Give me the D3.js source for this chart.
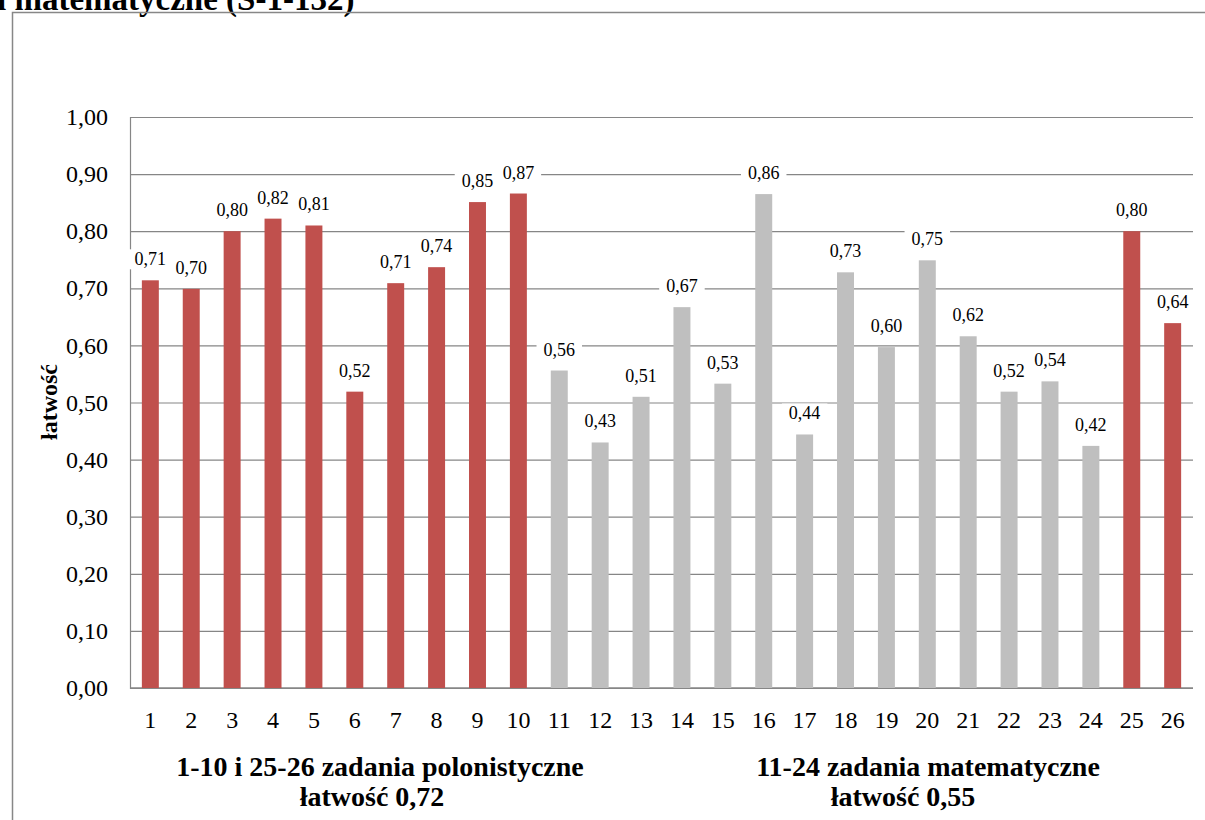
<!DOCTYPE html>
<html><head><meta charset="utf-8">
<script src="https://cdn.jsdelivr.net/npm/d3@7"></script>
<style>body{margin:0;background:#fff;}svg{display:block;}svg text{font-family:"Liberation Serif","Times New Roman",serif;}</style>
</head><body>
<script>
const categories = ["1","2","3","4","5","6","7","8","9","10","11","12","13","14","15","16","17","18","19","20","21","22","23","24","25","26"];
const values = [0.714,0.699,0.800,0.822,0.810,0.519,0.709,0.737,0.851,0.866,0.556,0.430,0.510,0.667,0.533,0.865,0.444,0.728,0.597,0.749,0.616,0.519,0.537,0.424,0.800,0.639];
const labels = ["0,71","0,70","0,80","0,82","0,81","0,52","0,71","0,74","0,85","0,87","0,56","0,43","0,51","0,67","0,53","0,86","0,44","0,73","0,60","0,75","0,62","0,52","0,54","0,42","0,80","0,64"];
const groups = ["pol","pol","pol","pol","pol","pol","pol","pol","pol","pol","mat","mat","mat","mat","mat","mat","mat","mat","mat","mat","mat","mat","mat","mat","pol","pol"];
const yTicks = [0,0.1,0.2,0.3,0.4,0.5,0.6,0.7,0.8,0.9,1.0];
const title = "i matematyczne (S-1-132)";
const yTitle = "łatwość";
const notes = [
  {lines:["1-10 i 25-26 zadania polonistyczne","łatwość 0,72"], x:[380,372]},
  {lines:["11-24 zadania matematyczne","łatwość 0,55"], x:[928,903]}
];
const colors = {pol:"#C0504D", mat:"#BFBFBF"};

const W=1205,H=820;
const svg=d3.select("body").append("svg").attr("width",W).attr("height",H);
const L=130,R=1193,T=117,B=688;
const x=d3.scaleBand().domain(categories).range([L,R]).paddingInner(0.585).paddingOuter(0.29);
const y=d3.scaleLinear().domain([0,1]).range([B,T]);
const ff = (sel)=>sel.style("font-family",'"Liberation Serif","Times New Roman",serif');

// title (cut at top, as in the reference)
ff(svg.append("text").attr("x",-3).attr("y",10).attr("font-weight","bold")
  .attr("font-size",33).text(title));
// outer frame
svg.append("rect").attr("x",12.5).attr("y",12.5).attr("width",W+20).attr("height",H+20)
  .attr("fill","none").attr("stroke","#878787").attr("stroke-width",1.5);

// gridlines + y axis
const yAxis=d3.axisLeft(y).tickValues(yTicks).tickSize(-(R-L)).tickFormat(d=>d3.format(".2f")(d).replace(".",","));
const ga=svg.append("g").attr("transform",`translate(${L},0)`).call(yAxis).attr("font-family",null);
ga.select(".domain").attr("stroke","#868686").attr("stroke-width",1.2);
ga.selectAll(".tick line").attr("stroke","#868686").attr("stroke-width",1.2);
ff(ga.selectAll(".tick text").attr("x",-22).attr("font-size",24).attr("fill","#000"));

// x axis
const xAxis=d3.axisBottom(x).tickSize(0);
const gx=svg.append("g").attr("transform",`translate(0,${B})`).call(xAxis).attr("font-family",null);
gx.select(".domain").attr("stroke","#868686").attr("stroke-width",1.5).attr("d",`M${L},0H${R}`);
ff(gx.selectAll(".tick text").attr("y",40).attr("dy",0).attr("font-size",24).attr("fill","#000"));

// bars
svg.append("g").selectAll("rect").data(values).join("rect")
  .attr("x",(d,i)=>x(categories[i])).attr("width",x.bandwidth())
  .attr("y",d=>y(d)).attr("height",d=>B-y(d))
  .attr("fill",(d,i)=>colors[groups[i]]);

// data labels with white background
const lg=svg.append("g");
values.forEach((v,i)=>{
  const cx=x(categories[i])+x.bandwidth()/2, cy=y(v)-21;
  const g=lg.append("g");
  const t=ff(g.append("text").attr("x",cx).attr("y",cy).attr("text-anchor","middle").attr("dominant-baseline","central")
    .attr("font-size",18).attr("fill","#000").text(labels[i]));
  const bb=t.node().getBBox();
  g.insert("rect","text").attr("x",bb.x-7).attr("y",bb.y).attr("width",bb.width+14).attr("height",bb.height).attr("fill","#fff");
});

// y title
ff(svg.append("text").attr("transform","translate(57,402) rotate(-90)").attr("text-anchor","middle")
  .attr("font-weight","bold").attr("font-size",24).text(yTitle));

// notes
notes.forEach(n=>{
  n.lines.forEach((s,k)=>{
    ff(svg.append("text").attr("x",n.x[k]).attr("y",776+k*30).attr("text-anchor","middle")
      .attr("font-weight","bold").attr("font-size",28).text(s));
  });
});
</script>
</body></html>
